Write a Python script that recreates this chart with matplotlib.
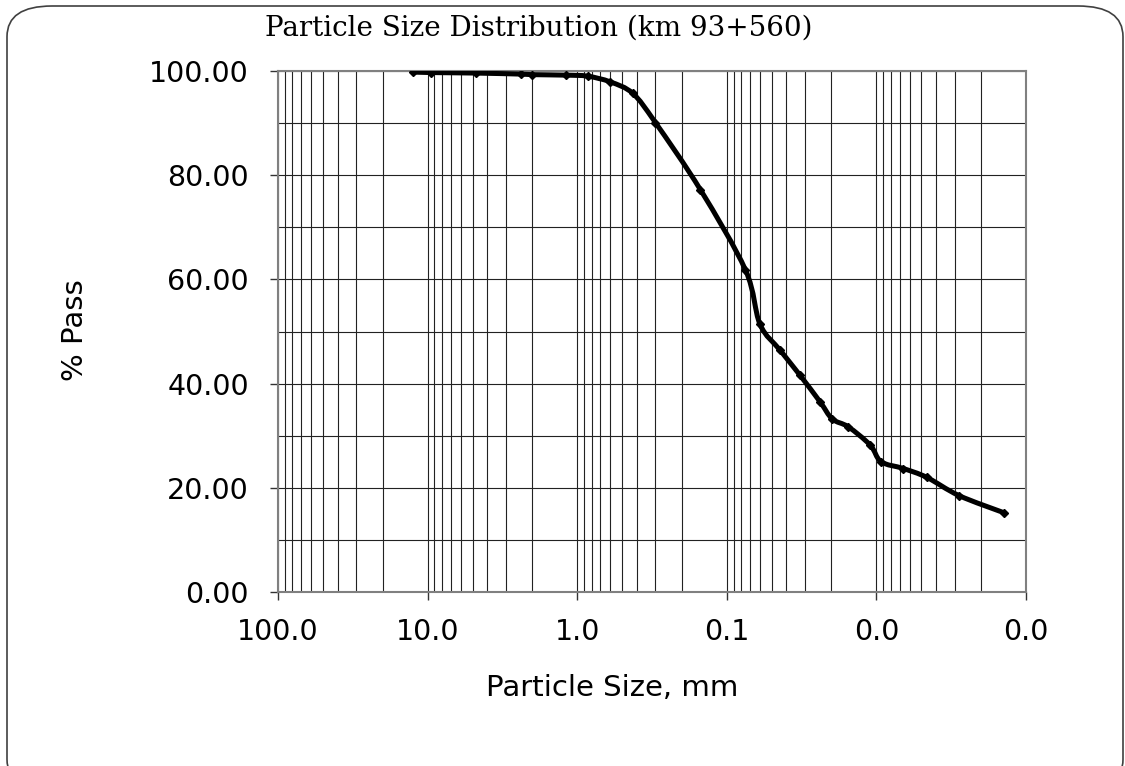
import matplotlib
matplotlib.use('Agg')
import numpy as np
import matplotlib.pyplot as plt
import matplotlib.patches as patches
from matplotlib.path import Path
from matplotlib.ticker import FixedLocator, LogLocator, FuncFormatter, NullFormatter

# sieve / hydrometer results
particle_size_mm = [12.5, 9.5, 4.75, 2.36, 2.0, 1.18, 0.85, 0.6, 0.425, 0.3,
                    0.15, 0.075, 0.060, 0.044, 0.0324, 0.0238, 0.0197, 0.0154,
                    0.0110, 0.0093, 0.0066, 0.0046, 0.0028, 0.0014]
percent_pass = [99.8, 99.7, 99.6, 99.4, 99.3, 99.2, 99.0, 97.9, 95.7, 90.1,
                77.2, 61.8, 51.4, 46.4, 41.6, 36.5, 33.2, 31.7,
                28.2, 25.0, 23.7, 22.0, 18.5, 15.2]

x_decades = [100, 10, 1, 0.1, 0.01, 0.001]
y_labels = [0, 20, 40, 60, 80, 100]
y_grid = [0, 10, 20, 30, 40, 50, 60, 70, 80, 90, 100]


def smooth_path(xs, ys):
    # Excel-style smoothed line: cubic Bezier segments through every point,
    # control points built in log-x space (linear on screen), then mapped back
    lx = np.log10(xs)
    y = np.asarray(ys, dtype=float)
    n = len(lx)
    verts = [(xs[0], y[0])]
    codes = [Path.MOVETO]
    for i in range(n - 1):
        a = max(i - 1, 0)
        b = min(i + 2, n - 1)
        c1x = lx[i] + (lx[i + 1] - lx[a]) / 6
        c1y = y[i] + (y[i + 1] - y[a]) / 6
        c2x = lx[i + 1] - (lx[b] - lx[i]) / 6
        c2y = y[i + 1] - (y[b] - y[i]) / 6
        verts += [(10 ** c1x, c1y), (10 ** c2x, c2y), (xs[i + 1], y[i + 1])]
        codes += [Path.CURVE4] * 3
    return Path(verts, codes)


W, H = 1125, 766
fig = plt.figure(figsize=(W / 100, H / 100), dpi=100)

# rounded chart-area frame
frame = patches.FancyBboxPatch((7 / W, 1 - 790 / H), (1123 - 7) / W, (790 - 6) / H,
                               boxstyle="round,pad=0,rounding_size=0.04",
                               transform=fig.transFigure, facecolor='none',
                               edgecolor='#404040', linewidth=1.2, clip_on=False)
fig.patches.append(frame)

ax = fig.add_axes([278 / W, 1 - 592 / H, (1026 - 278) / W, (592 - 71) / H])

ax.set_xscale('log')
ax.set_xlim(100, 0.001)
ax.set_ylim(0, 100)

curve = patches.PathPatch(smooth_path(particle_size_mm, percent_pass),
                          facecolor='none', edgecolor='black', linewidth=3.6,
                          joinstyle='round', capstyle='round', zorder=3)
ax.add_patch(curve)
ax.plot(particle_size_mm, percent_pass, linestyle='none', marker='D',
        markersize=4.5, color='black', zorder=4)

ax.xaxis.set_major_locator(FixedLocator(x_decades))
ax.xaxis.set_minor_locator(LogLocator(base=10, subs=range(2, 10), numticks=20))
ax.xaxis.set_major_formatter(FuncFormatter(lambda v, p: f"{v:.1f}"))
ax.xaxis.set_minor_formatter(NullFormatter())

ax.yaxis.set_major_locator(FixedLocator(y_labels))
ax.yaxis.set_minor_locator(FixedLocator(y_grid))
ax.yaxis.set_major_formatter(FuncFormatter(lambda v, p: f"{v:.2f}"))

ax.grid(True, which='both', axis='both', color='#222222', linewidth=0.8)
ax.set_axisbelow(True)

ax.tick_params(axis='both', which='major', direction='out', length=5.8,
               width=1, color='#333333', labelsize=20.5)
ax.tick_params(axis='x', which='major', pad=13)
ax.tick_params(axis='y', which='major', pad=15)
ax.tick_params(axis='both', which='minor', length=0)

for s in ax.spines.values():
    s.set_color('#808080')
    s.set_linewidth(1.5)

fig.text(539 / W, 1 - 28 / H, "Particle Size Distribution (km 93+560)",
         family='DejaVu Serif', fontsize=20, ha='center', va='center')
fig.text(612 / W, 1 - 688 / H, "Particle Size, mm", fontsize=21,
         ha='center', va='center')
fig.text(75 / W, 1 - 330 / H, "% Pass", fontsize=21, rotation=90,
         ha='center', va='center')

fig.savefig('out.png', dpi=100)
